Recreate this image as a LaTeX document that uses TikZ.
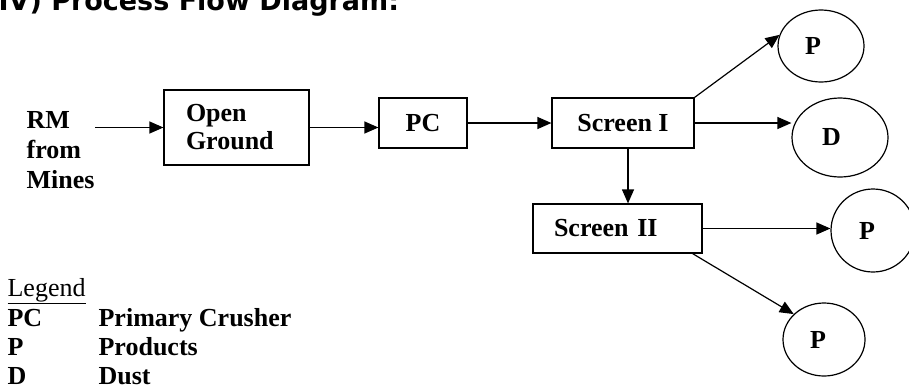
\documentclass[tikz,border=0pt]{standalone}
\usepackage{fontspec}
\setmainfont{Liberation Serif}
\newfontfamily\headfont{DejaVu Sans}
\usetikzlibrary{arrows.meta,shapes.geometric}

\begin{document}
\begin{tikzpicture}[x = 1pt, y = -1pt, line width = 1.2pt,
    font = \fontsize{26}{30}\selectfont\bfseries,
    box/.style = {rectangle, draw, inner sep = 0pt},
    ell/.style = {ellipse, draw, inner sep = 0pt},
    txt/.style = {inner sep = 0pt, anchor = base west},
    arr/.style = {-{Triangle[length = 14pt, width = 12pt]}}]
\useasboundingbox (0,0) rectangle (909,389);
\node[txt, font = \headfont\fontsize{27}{32}\selectfont\bfseries] (t) at (-2,10) {IV) Process Flow Diagram:};
\draw (26,188) node[txt, align = left] (rm) {RM\\from\\Mines}
    (236.5,127.5) node[box, minimum width = 145pt, minimum height = 75pt, text width = 101pt, align = left] (og) {Open\\[-2pt]Ground}
    (423,123) node[box, minimum width = 88pt, minimum height = 50pt] (pc) {PC}
    (623,123) node[box, minimum width = 142pt, minimum height = 50pt] (s1) {Screen I}
    (617.5,228.5) node[box, minimum width = 169pt, minimum height = 49pt, text width = 127pt, align = left] (s2) {Screen II}
    (821,46) node[ell, minimum width = 86pt, minimum height = 72pt, text width = 32pt, align = left] (p1) {P}
    (840,137.5) node[ell, minimum width = 96pt, minimum height = 79pt, text width = 36pt, align = left] (d) {D}
    (873,230.5) node[ell, minimum width = 84pt, minimum height = 83pt, text width = 28pt, align = left] (p2) {P}
    (824,339.5) node[ell, minimum width = 82pt, minimum height = 73pt, text width = 28pt, align = left] (p3) {P};
    \draw [arr] (rm.east |- og) -- (og.west);
    \draw [arr] (og.east) -- (og.east -| pc.west);
    \draw [arr] (pc) -- (s1);
    \draw [arr] (s1.north east) -- (p1.165);
    \draw [arr] (s1.east) -- (s1.east -| d.west);
    \draw [arr] ([xshift = 5pt]s1.south) -- ([xshift = 5pt]s1.south |- s2.north);
    \draw [arr] (s2.east) -- (s2.east -| p2.west);
    \draw [arr] ([xshift = -10pt]s2.south east) -- (p3.140);
% legend
\draw (7,296) node[txt, font = \fontsize{26}{30}\selectfont\mdseries] (l0) {\underline{Legend}}
    (7,326) node[txt] (l1) {PC}
    (98,326) node[txt] (l2) {Primary Crusher}
    (7,355) node[txt] (l3) {P}
    (98,355) node[txt] (l4) {Products}
    (7,384) node[txt] (l5) {D}
    (98,384) node[txt] (l6) {Dust};
\end{tikzpicture}
\end{document}
